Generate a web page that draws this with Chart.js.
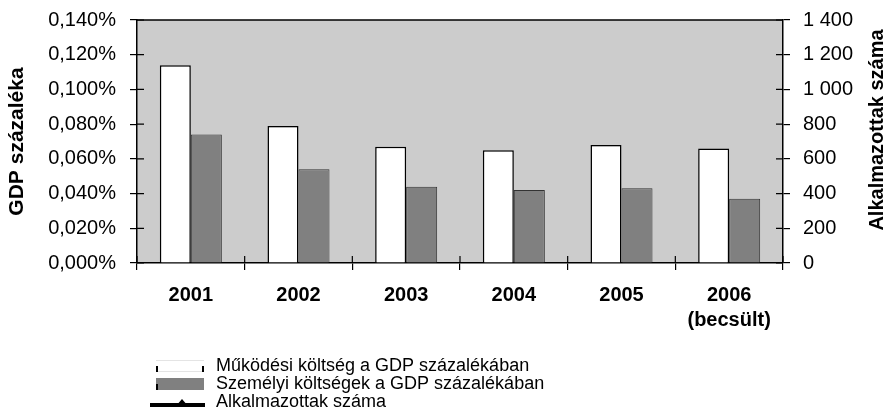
<!DOCTYPE html>
<html>
<head>
<meta charset="utf-8">
<script src="https://cdn.jsdelivr.net/npm/chart.js@4.4.1/dist/chart.umd.min.js"></script>
<style>
  html, body { margin: 0; padding: 0; background: #fff; }
  #wrap { width: 888px; height: 413px; }
</style>
</head>
<body>
<div id="wrap"><canvas id="myChart"></canvas></div>
<script>
/* ======================================
        DATA
========================================*/
const years = ['2001', '2002', '2003', '2004', '2005', ['2006', '(becsült)']];
const opCost = [0.114, 0.079, 0.067, 0.065, 0.068, 0.066];     // % of GDP
const staffCost = [0.074, 0.054, 0.044, 0.042, 0.043, 0.037];  // % of GDP
const employees = [null, null, null, null, null, null];        // line not visible in the picture
const seriesNames = ['Működési költség a GDP százalékában', 'Személyi költségek a GDP százalékában', 'Alkalmazottak száma'];
const rightTitle = 'Alkalmazottak száma';

const FONT = "'Liberation Sans', Arial, sans-serif";

function huPct(v) {
  return v.toFixed(3).replace('.', ',') + '%';
}
function huNum(v) {
  return String(Math.round(v)).replace(/\B(?=(\d{3})+(?!\d))/g, ' ');
}

/* ======================================
        PLOT BACKGROUND + INNER TICKS
========================================*/
const plotBox = {
  id: 'plotBox',
  beforeDraw(chart) {
    const a = chart.chartArea, ctx = chart.ctx;
    ctx.save();
    ctx.fillStyle = '#cccccc';
    ctx.fillRect(a.left, a.top, a.right - a.left, a.bottom - a.top);
    ctx.restore();
  },
  afterDraw(chart) {
    const a = chart.chartArea, ctx = chart.ctx;
    const s = chart.scales;
    ctx.save();
    ctx.strokeStyle = '#000';
    ctx.lineWidth = 1.5;
    // top frame
    ctx.beginPath();
    ctx.moveTo(a.left, a.top);
    ctx.lineTo(a.right, a.top);
    ctx.stroke();
    // inner halves of the ticks
    ctx.lineWidth = 1.2;
    ctx.beginPath();
    s.y.ticks.forEach((t, i) => {
      const y = s.y.getPixelForTick(i);
      ctx.moveTo(a.left, y); ctx.lineTo(a.left + 7, y);
    });
    s.y2.ticks.forEach((t, i) => {
      const y = s.y2.getPixelForTick(i);
      ctx.moveTo(a.right - 7, y); ctx.lineTo(a.right, y);
    });
    for (let i = 0; i <= years.length; i++) {
      const x = s.x.getPixelForValue(i - 0.5);
      ctx.moveTo(x, a.bottom - 7); ctx.lineTo(x, a.bottom);
    }
    ctx.stroke();

    // right axis title, reading bottom to top
    ctx.translate(877, 130);
    ctx.rotate(-Math.PI / 2);
    ctx.font = 'bold 20px ' + FONT;
    ctx.fillStyle = '#000';
    ctx.textAlign = 'center';
    ctx.textBaseline = 'middle';
    ctx.fillText(rightTitle, 0, 0);
    ctx.restore();
  }
};

/* ======================================
        LEGEND (one item per row)
========================================*/
const stackedLegend = {
  id: 'stackedLegend',
  afterDraw(chart) {
    const ctx = chart.ctx;
    const x0 = 156, sw = 48, tx = 216;
    const rows = [366, 384, 402];
    ctx.save();
    ctx.font = '18px ' + FONT;
    ctx.textBaseline = 'middle';

    // white bar swatch
    let y = rows[0];
    ctx.fillStyle = '#fff';
    ctx.fillRect(x0, y - 6, sw, 12);
    ctx.fillStyle = '#e4e4e4';
    ctx.fillRect(x0, y - 6, sw, 1);
    ctx.fillRect(x0, y + 5, sw, 1);
    ctx.fillStyle = '#000';
    ctx.fillRect(x0, y, 2, 6);
    ctx.fillRect(x0 + sw - 2, y, 2, 6);

    // grey bar swatch
    y = rows[1];
    ctx.fillStyle = '#808080';
    ctx.fillRect(x0, y - 6, sw, 12);
    ctx.fillStyle = '#000';
    ctx.fillRect(x0, y, 2, 6);

    // line swatch
    y = rows[2];
    ctx.fillRect(x0 - 6, y + 1, sw + 7, 4);
    ctx.beginPath();
    ctx.moveTo(x0 + 26 - 6, y + 4);
    ctx.lineTo(x0 + 26 + 6, y + 4);
    ctx.lineTo(x0 + 26, y - 3);
    ctx.closePath();
    ctx.fill();

    ctx.fillStyle = '#000';
    seriesNames.forEach((name, i) => {
      ctx.fillText(name, tx, rows[i]);
    });
    ctx.restore();
  }
};

/* ======================================
        CHART
========================================*/
Chart.defaults.font.family = FONT;
Chart.defaults.color = '#000';

function fixSide(width) {
  return function (scale) {
    scale.width = width;
    // keep the tick-label padding from pushing the plot down
    scale.paddingTop = 12;
    scale.paddingBottom = 12;
  };
}

const ctx = document.getElementById('myChart').getContext('2d');
const chart = new Chart(ctx, {
  type: 'bar',
  data: {
    labels: years,
    datasets: [{
      label: seriesNames[0],
      data: opCost,
      yAxisID: 'y',
      backgroundColor: '#ffffff',
      borderColor: '#000',
      borderWidth: 1.5,
      order: 2
    }, {
      label: seriesNames[1],
      data: staffCost,
      yAxisID: 'y',
      backgroundColor: '#808080',
      borderColor: '#333',
      borderWidth: 1,
      order: 2
    }, {
      type: 'line',
      label: seriesNames[2],
      data: employees,
      yAxisID: 'y2',
      borderColor: '#000',
      backgroundColor: '#000',
      borderWidth: 4,
      pointStyle: 'triangle',
      pointRadius: 5,
      order: 1
    }]
  },
  plugins: [plotBox, stackedLegend],
  options: {
    responsive: true,
    maintainAspectRatio: false,
    animation: false,
    layout: { padding: { top: 20, left: 0, right: 0, bottom: 0 } },
    datasets: {
      bar: { categoryPercentage: 0.576, barPercentage: 1 }
    },
    plugins: {
      legend: { display: false },
      tooltip: { enabled: false }
    },
    scales: {
      x: {
        grid: { display: true, drawOnChartArea: false, offset: true, tickLength: 7, color: '#000', lineWidth: 1.2 },
        border: { color: '#000', width: 1.5 },
        ticks: { font: { size: 20, weight: 'bold', lineHeight: 1.25 }, padding: 13, maxRotation: 0 },
        afterFit(scale) { scale.height = 150; }
      },
      y: {
        position: 'left',
        min: 0,
        max: 0.14,
        grid: { display: true, drawOnChartArea: false, tickLength: 7, color: '#000', lineWidth: 1.2 },
        border: { color: '#000', width: 1.5 },
        ticks: { stepSize: 0.02, font: { size: 20 }, padding: 14, callback: v => huPct(v) },
        title: { display: true, text: 'GDP százaléka', font: { size: 21, weight: 'bold' }, padding: { top: 5, bottom: 0 } },
        afterFit: fixSide(137)
      },
      y2: {
        position: 'right',
        min: 0,
        max: 1400,
        grid: { display: true, drawOnChartArea: false, tickLength: 7, color: '#000', lineWidth: 1.2 },
        border: { color: '#000', width: 1.5 },
        ticks: { stepSize: 200, font: { size: 20 }, padding: 13, callback: v => huNum(v) },
        afterFit: fixSide(105)
      }
    }
  }
});
</script>
</body>
</html>
